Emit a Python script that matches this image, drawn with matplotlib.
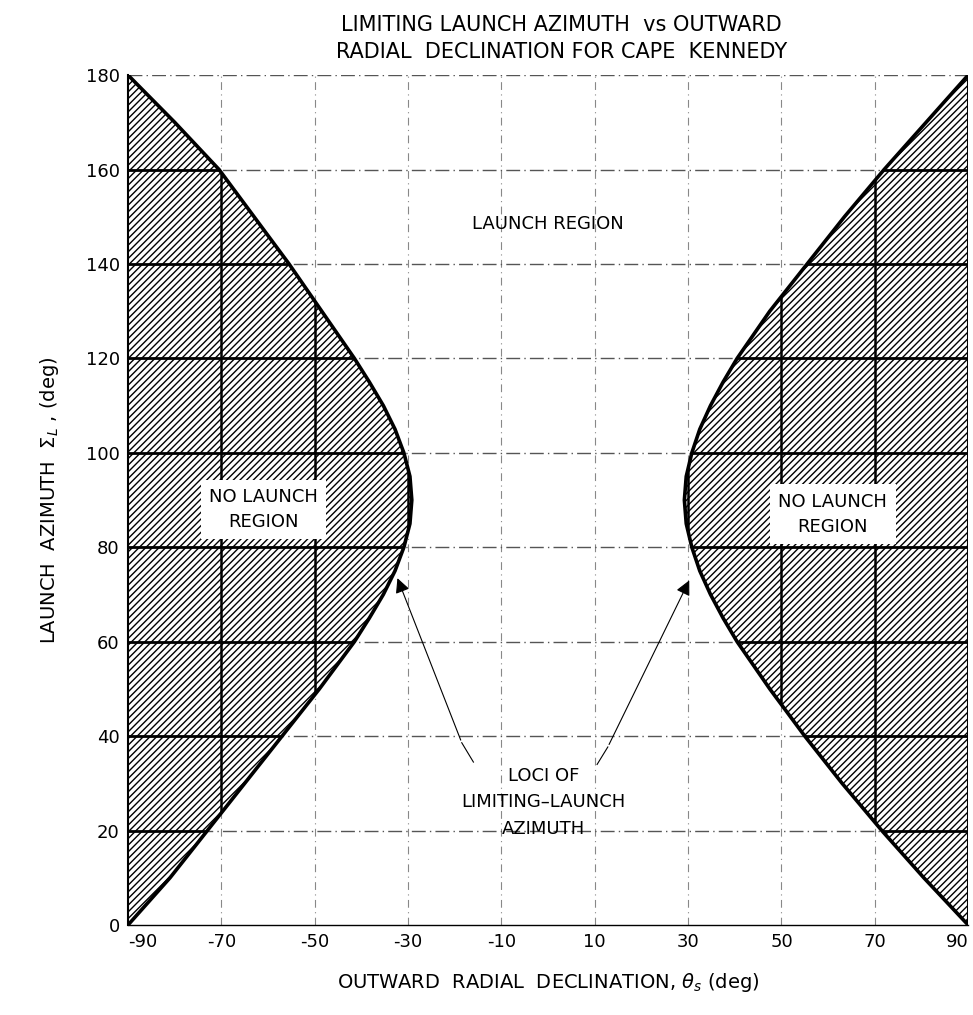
import matplotlib
matplotlib.use("Agg")
import matplotlib.pyplot as plt
from matplotlib.patches import Polygon

# ---- data ----
azimuth = [0, 10, 20, 30, 40, 50, 60, 65, 70, 75, 80, 85, 90, 95, 100, 105, 110, 115, 120,
           130, 140, 150, 160, 170, 180]
left_decl = [-90, -81, -73, -65, -57, -49, -41.5, -38.3, -35.3, -32.8, -30.9, -29.6, -29.2, -29.6,
             -30.9, -32.8, -35.3, -38.3, -41.5, -48.5, -55.5, -63, -70.5, -80, -90]
right_decl = [90, 80.5, 71.5, 63, 55, 47.5, 40.5, 37.5, 34.8, 32.5, 30.8, 29.6, 29.2, 29.6,
              30.8, 32.5, 34.8, 37.5, 40.5, 47.5, 55.5, 63.5, 72, 81, 90]

x_ticks = [-90, -70, -50, -30, -10, 10, 30, 50, 70, 90]
x_ticklabels = ["-90", "-70", "-50", "-30", "-10", "10", "30", "50", "70", "90"]
y_ticks = [0, 20, 40, 60, 80, 100, 120, 140, 160, 180]
y_ticklabels = ["0", "20", "40", "60", "80", "100", "120", "140", "160", "180"]
grid_x = [-70, -50, -30, -10, 10, 30, 50, 70]
grid_y = [20, 40, 60, 80, 100, 120, 140, 160, 180]

plt.rcParams['hatch.linewidth'] = 1.0
fig = plt.figure(figsize=(9.73, 10.15), dpi=100)
ax = fig.add_axes([0.1316, 0.0887, 0.8634, 0.8373])
ax.set_xlim(-90, 90)
ax.set_ylim(0, 180)

# light dash-dot grid (launch region)
for gx in grid_x:
    ax.axvline(gx, color='#888888', lw=0.8, ls=(0, (7, 4, 1, 4)), zorder=1)
for gy in grid_y:
    ax.axhline(gy, color='#555555', lw=1.0, ls=(0, (10, 3, 1, 3)), zorder=1)

# hatched no-launch regions
left_poly = Polygon(list(zip(left_decl, azimuth)) + [(-90, 180), (-90, 0)], closed=True,
                    facecolor='white', edgecolor='black', hatch='/////', lw=0, zorder=2)
right_poly = Polygon(list(zip(right_decl, azimuth)) + [(90, 180), (90, 0)], closed=True,
                     facecolor='white', edgecolor='black', hatch='/////', lw=0, zorder=2)
ax.add_patch(left_poly)
ax.add_patch(right_poly)

# solid grid lines inside the hatched regions
for poly in (left_poly, right_poly):
    for gy in grid_y:
        ln = ax.axhline(gy, color='black', lw=2.0, zorder=3)
        ln.set_clip_path(poly)
    for gx in grid_x:
        ln = ax.axvline(gx, color='black', lw=1.8, zorder=3)
        ln.set_clip_path(poly)

# boundary curves
ax.plot(left_decl, azimuth, color='black', lw=2.6, zorder=4, solid_capstyle='round')
ax.plot(right_decl, azimuth, color='black', lw=2.6, zorder=4, solid_capstyle='round')
ax.plot([90, 90], [0, 180], color='black', lw=1.5, zorder=4)

# region labels
ax.text(0, 148.5, "LAUNCH REGION", ha='center', va='center', fontsize=13, zorder=5)
ax.text(-61, 88, "NO LAUNCH\nREGION", ha='center', va='center', fontsize=13, linespacing=1.5,
        zorder=5, bbox=dict(facecolor='white', edgecolor='none', pad=6))
ax.text(61, 87, "NO LAUNCH\nREGION", ha='center', va='center', fontsize=13, linespacing=1.5,
        zorder=5, bbox=dict(facecolor='white', edgecolor='none', pad=6))
ax.text(-1, 26, "LOCI OF\nLIMITING\u2013LAUNCH\nAZIMUTH", ha='center', va='center', fontsize=13,
        linespacing=1.6, zorder=5)

# arrows
ax.plot([-16, -18.5], [34.5, 38.6], color='black', lw=0.8, zorder=5)
ax.annotate("", xy=(-32.5, 74), xytext=(-18.5, 38.6),
            arrowprops=dict(arrowstyle='-|>', color='black', lw=0.8, mutation_scale=22), zorder=5)
ax.plot([10.5, 12.8], [34, 37.7], color='black', lw=0.8, zorder=5)
ax.annotate("", xy=(30.5, 73.5), xytext=(12.8, 37.7),
            arrowprops=dict(arrowstyle='-|>', color='black', lw=0.8, mutation_scale=22), zorder=5)

# axes styling
for s in ['top', 'right']:
    ax.spines[s].set_visible(False)
ax.spines['left'].set_linewidth(1.5)
ax.spines['bottom'].set_linewidth(1.0)
ax.spines['left'].set_zorder(6)
ax.set_xticks(x_ticks)
ax.set_xticklabels(x_ticklabels)
ax.set_yticks(y_ticks)
ax.set_yticklabels(y_ticklabels)
ax.tick_params(length=0, labelsize=13, pad=6)
ax.get_xticklabels()[-1].set_horizontalalignment('right')
ax.get_xticklabels()[0].set_horizontalalignment('left')

ax.set_xlabel(r"OUTWARD  RADIAL  DECLINATION, $\theta_s$ (deg)", fontsize=14, labelpad=14)
ax.set_ylabel(r"LAUNCH  AZIMUTH  $\Sigma_L$ , (deg)", fontsize=14, labelpad=18)

fig.text(0.577, 0.975, "LIMITING LAUNCH AZIMUTH  vs OUTWARD", ha='center', va='center', fontsize=15)
fig.text(0.577, 0.949, "RADIAL  DECLINATION FOR CAPE  KENNEDY", ha='center', va='center', fontsize=15)

fig.savefig("out.png", dpi=100)
